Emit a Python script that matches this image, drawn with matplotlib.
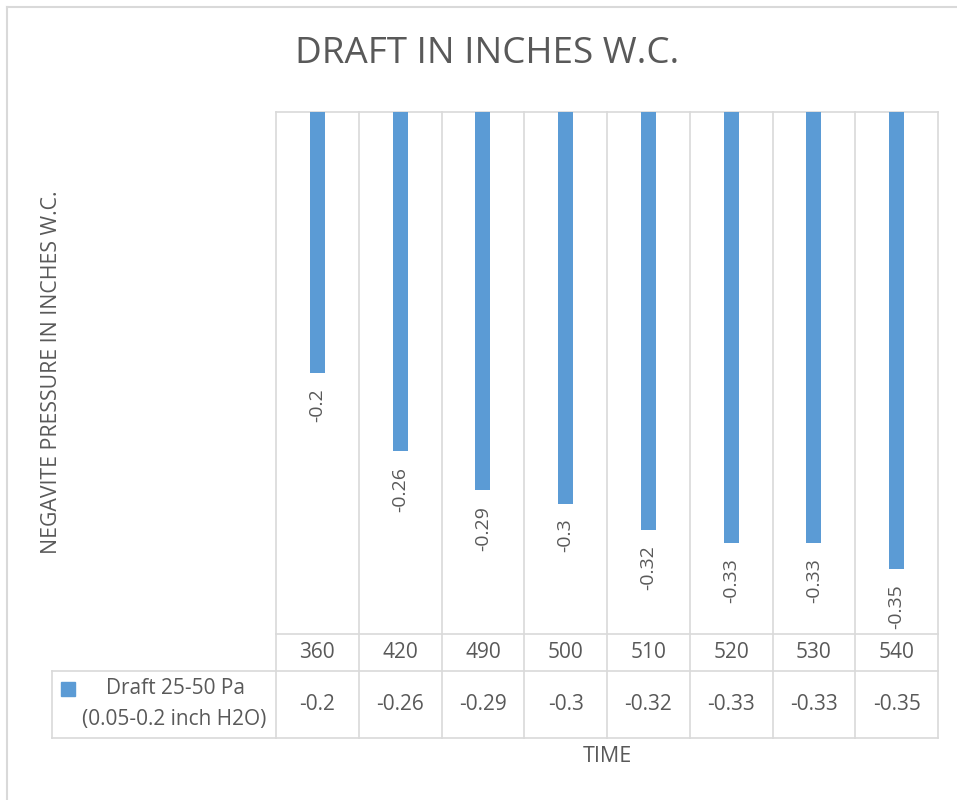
import matplotlib
matplotlib.use("Agg")
import matplotlib.pyplot as plt
from matplotlib.patches import Rectangle
from matplotlib.lines import Line2D
import matplotlib.transforms as mtransforms

categories = ["360", "420", "490", "500", "510", "520", "530", "540"]
values = [-0.2, -0.26, -0.29, -0.3, -0.32, -0.33, -0.33, -0.35]
series_name_1 = "Draft 25-50 Pa"
series_name_2 = "(0.05-0.2 inch H2O)"
title = "DRAFT IN INCHES W.C."
ylabel = "NEGAVITE PRESSURE IN INCHES W.C."
xlabel = "TIME"

W, H = 957, 800
BAR = "#5B9BD5"
TXT = "#595959"
GRID = "#D9D9D9"
FONT = "Open Sans"

plt.rcParams['font.family'] = [FONT, 'DejaVu Sans']

fig = plt.figure(figsize=(W / 100, H / 100), dpi=100)

def fx(px):
    return px / W

def fy(py):
    return 1 - py / H

# plot area in pixels
L, R, T, B = 276, 938, 112, 634
ax = fig.add_axes([fx(L), fy(B), fx(R) - fx(L), fy(T) - fy(B)])
n = len(categories)
x = list(range(n))
ax.bar(x, values, width=0.18, color=BAR, zorder=3)
ax.set_xlim(-0.5, n - 0.5)
ax.set_ylim(-0.4, 0)
ax.axis("off")

for xi, v in zip(x, values):
    ax.annotate(f"{v:g}", xy=(xi, v), xytext=(0, -11), textcoords="offset points",
                rotation=90, ha="center", va="top", fontsize=14, color=TXT)

# table geometry (pixels)
ROW1_B = 671
ROW2_B = 738
LEG_L = 52

trans = mtransforms.blended_transform_factory(ax.transData, ax.transAxes)
def ay(py):
    return (B - py) / (B - T)

lw = 1.2
for b in [i - 0.5 for i in range(n + 1)]:
    ax.add_line(Line2D([b, b], [1, ay(ROW2_B)], transform=trans, color=GRID, lw=lw, clip_on=False, zorder=1))
ax.add_line(Line2D([-0.5, n - 0.5], [1, 1], transform=trans, color=GRID, lw=lw, clip_on=False, zorder=1))
ax.add_line(Line2D([-0.5, n - 0.5], [0, 0], transform=trans, color=GRID, lw=lw, clip_on=False, zorder=1))
fig.add_artist(Line2D([fx(LEG_L), fx(R)], [fy(ROW1_B)] * 2, color=GRID, lw=lw))
fig.add_artist(Line2D([fx(LEG_L), fx(R)], [fy(ROW2_B)] * 2, color=GRID, lw=lw))
fig.add_artist(Line2D([fx(LEG_L)] * 2, [fy(ROW1_B), fy(ROW2_B)], color=GRID, lw=lw))

# chart border (left & top visible)
fig.add_artist(Line2D([fx(7), fx(7)], [fy(7), 0], color=GRID, lw=1.5))
fig.add_artist(Line2D([fx(7), 1], [fy(7), fy(7)], color=GRID, lw=1.5))

# table text
hdr_y = ay((B + ROW1_B) / 2)
val_y = ay((ROW1_B + ROW2_B) / 2)
for xi, c, v in zip(x, categories, values):
    ax.text(xi, hdr_y, c, transform=trans, ha="center", va="center", fontsize=15, color=TXT)
    ax.text(xi, val_y, f"{v:g}", transform=trans, ha="center", va="center", fontsize=15, color=TXT)

# legend key
fig.add_artist(Rectangle((fx(61), fy(696)), fx(14), 14 / H, color=BAR, transform=fig.transFigure))
fig.text(fx(175), fy(689), series_name_1, ha="center", va="center", fontsize=15, color=TXT)
fig.text(fx(174), fy(719), series_name_2, ha="center", va="center", fontsize=15, color=TXT)

# titles
fig.text(fx(487), fy(54), title, ha="center", va="center", fontsize=26.5, color=TXT)
fig.text(fx(52), fy(372), ylabel, ha="center", va="center", rotation=90, fontsize=15.3, color=TXT)
fig.text(fx(607), fy(757), xlabel, ha="center", va="center", fontsize=15.5, color=TXT)

fig.savefig("out.png", dpi=100)
